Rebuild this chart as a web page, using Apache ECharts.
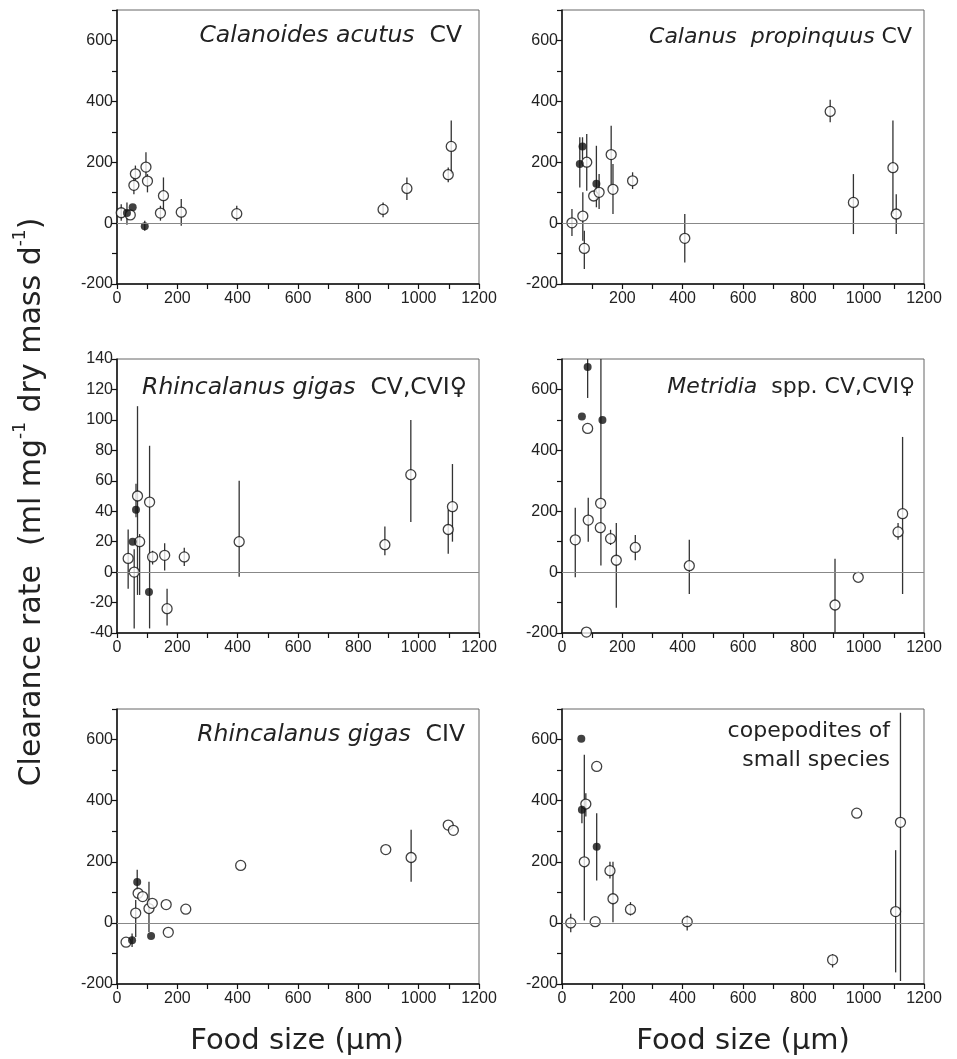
<!DOCTYPE html>
<html>
<head>
<meta charset="utf-8">
<script src="https://cdn.jsdelivr.net/npm/echarts@6/dist/echarts.min.js"></script>
<style>
  html, body { margin: 0; padding: 0; background: #fff; }
  #main { width: 957px; height: 1059px; }
</style>
</head>
<body>
<div id="main"></div>
<script>
// Calanoides acutus CV
var p1Open = [[14, 34], [44, 27], [56, 124], [61, 162], [96, 184], [101, 138], [144, 33], [154, 90], [213, 36], [397, 31], [882, 45], [961, 114], [1098, 159], [1108, 252]];
var p1Filled = [[33, 33], [52, 52], [92, -10]];
var p1Err = [[14, 8, 62], [33, -5, 68], [56, 95, 150], [61, 139, 189], [96, 150, 233], [101, 101, 161], [92, -25, 8], [144, 8, 57], [154, 41, 150], [213, -9, 79], [397, 8, 57], [882, 19, 68], [961, 76, 150], [1098, 134, 183], [1108, 161, 337]];

// Calanus propinquus CV
var p2Open = [[33, 1], [69, 23], [74, -83], [82, 200], [105, 89], [123, 101], [163, 225], [169, 111], [234, 139], [407, -50], [889, 367], [966, 68], [1097, 182], [1108, 30]];
var p2Filled = [[59, 194], [68, 252], [114, 129]];
var p2Err = [[33, -42, 46], [59, 117, 282], [68, 211, 282], [69, -58, 101], [74, -151, -25], [82, 106, 293], [114, 52, 254], [123, 46, 161], [163, 123, 320], [169, 30, 194], [234, 112, 167], [407, -129, 30], [889, 331, 405], [966, -36, 161], [1097, 30, 337], [1108, -36, 95]];

// Rhincalanus gigas CV,CVI
var p3Open = [[37, 9], [57, 0], [68, 50], [75, 20], [108, 46], [118, 10], [158, 11], [166, -24], [223, 10], [405, 20], [888, 18], [974, 64], [1098, 28], [1112, 43]];
var p3Filled = [[52, 20], [63, 41], [106, -13]];
var p3Err = [[37, -11, 28], [57, -37, 15], [63, 36, 58], [68, -15, 109], [75, -15, 25], [108, -37, 83], [118, 5, 14], [158, 1, 19], [166, -35, -11], [223, 4, 16], [405, -3, 60], [888, 11, 30], [974, 33, 100], [1098, 12, 41], [1112, 20, 71]];

// Metridia spp. CV,CVI
var p4Open = [[44, 106], [81, -197], [85, 472], [87, 171], [127, 146], [128, 226], [161, 110], [180, 39], [243, 81], [422, 21], [905, -108], [982, -17], [1114, 132], [1129, 192]];
var p4Filled = [[66, 511], [85, 674], [134, 500]];
var p4Err = [[44, -17, 211], [85, 572, 700], [87, 100, 244], [129, 22, 700], [161, 89, 139], [180, -117, 161], [243, 39, 122], [422, -72, 106], [905, -200, 44], [1114, 106, 161], [1129, -72, 444]];

// Rhincalanus gigas CIV
var p5Open = [[30, -63], [62, 32], [70, 97], [85, 86], [106, 47], [117, 64], [163, 60], [170, -31], [228, 45], [410, 188], [891, 240], [975, 214], [1098, 320], [1115, 303]];
var p5Filled = [[50, -57], [67, 134], [113, -43]];
var p5Err = [[50, -79, -35], [62, -46, 75], [67, 108, 174], [106, -30, 135], [975, 135, 305]];

// copepodites of small species
var p6Open = [[29, 0], [74, 200], [79, 389], [110, 4], [115, 512], [159, 171], [169, 79], [227, 44], [415, 4], [897, -121], [977, 359], [1106, 37], [1122, 329]];
var p6Filled = [[64, 603], [66, 370], [115, 249]];
var p6Err = [[29, -31, 30], [66, 326, 386], [74, 8, 550], [79, 348, 424], [115, 139, 359], [159, 145, 200], [169, 2, 200], [227, 24, 68], [415, -25, 24], [897, -146, -102], [1106, -162, 238], [1122, -190, 688]];

var xTicks = { min: 0, max: 1200, step: 100, labelStep: 200 };
var yTicksBig = { min: -200, max: 700, step: 100, labelStep: 200 };
var yTicksSmall = { min: -40, max: 140, step: 20, labelStep: 20 };

var panels = [
    { open: p1Open, filled: p1Filled, err: p1Err, y: yTicksBig, left: 117, top: 10, height: 274 },
    { open: p2Open, filled: p2Filled, err: p2Err, y: yTicksBig, left: 562, top: 10, height: 274, hideZero: true },
    { open: p3Open, filled: p3Filled, err: p3Err, y: yTicksSmall, left: 117, top: 359, height: 274 },
    { open: p4Open, filled: p4Filled, err: p4Err, y: yTicksBig, left: 562, top: 359, height: 274 },
    { open: p5Open, filled: p5Filled, err: p5Err, y: yTicksBig, left: 117, top: 709, height: 275 },
    { open: p6Open, filled: p6Filled, err: p6Err, y: yTicksBig, left: 562, top: 709, height: 275 }
];

var tickFont = { fontFamily: 'Liberation Sans', fontSize: 16, color: '#222' };
var sp = { fontFamily: 'DejaVu Sans', fontSize: 22, fontStyle: 'italic', fontWeight: 'normal', color: '#222', lineHeight: 26 };
var rm = { fontFamily: 'DejaVu Sans', fontSize: 22, fontWeight: 'normal', color: '#222', lineHeight: 26 };
var spL = Object.assign({}, sp, { fontSize: 23.5 });
var rmL = Object.assign({}, rm, { fontSize: 23.5 });

var grids = [], xAxes = [], yAxes = [], series = [];

panels.forEach(function (p, i) {
    grids.push({
        left: p.left, top: p.top, width: 362, height: p.height,
        show: true, borderColor: '#666', borderWidth: 1
    });
    xAxes.push({
        type: 'value', gridIndex: i,
        min: xTicks.min, max: xTicks.max, interval: xTicks.step,
        axisLine: { onZero: false, lineStyle: { color: '#111', width: 1.5 } },
        axisTick: { inside: false, length: 5, lineStyle: { color: '#111', width: 1.2 } },
        splitLine: { show: false },
        axisLabel: Object.assign({
            margin: 7,
            showMinLabel: !p.hideZero,
            formatter: function (v) { return v % xTicks.labelStep === 0 ? String(v) : ''; }
        }, tickFont)
    });
    yAxes.push({
        type: 'value', gridIndex: i,
        min: p.y.min, max: p.y.max, interval: p.y.step,
        axisLine: { onZero: false, lineStyle: { color: '#111', width: 1.5 } },
        axisTick: { inside: false, length: 5, lineStyle: { color: '#111', width: 1.2 } },
        splitLine: { show: false },
        axisLabel: Object.assign({
            margin: 4,
            formatter: function (v) { return v % p.y.labelStep === 0 ? String(v) : ''; }
        }, tickFont)
    });
    // error bars
    series.push({
        type: 'custom', xAxisIndex: i, yAxisIndex: i,
        data: p.err,
        encode: { x: 0, y: [1, 2] },
        silent: true,
        renderItem: function (params, api) {
            var a = api.coord([api.value(0), api.value(1)]);
            var b = api.coord([api.value(0), api.value(2)]);
            return {
                type: 'line',
                shape: { x1: a[0], y1: a[1], x2: b[0], y2: b[1] },
                style: { stroke: '#333', lineWidth: 1.3 }
            };
        },
        z: 1
    });
    // open circles + zero line
    series.push({
        type: 'scatter', xAxisIndex: i, yAxisIndex: i,
        data: p.open,
        symbol: 'circle', symbolSize: 10,
        itemStyle: { color: '#fff', borderColor: '#111', borderWidth: 1.3 },
        markLine: {
            silent: true, symbol: 'none', label: { show: false },
            lineStyle: { color: '#888', width: 1.2, type: 'solid' },
            data: [{ yAxis: 0 }]
        },
        z: 3
    });
    series.push({
        type: 'scatter', xAxisIndex: i, yAxisIndex: i,
        data: p.filled,
        symbol: 'circle', symbolSize: 8,
        itemStyle: { color: '#111' },
        z: 4
    });
});

var myChart = echarts.init(document.getElementById('main'), null, { renderer: 'canvas' });

var titleStyle = { fontWeight: 'normal', rich: { i: sp, n: rm } };
var titleStyleL = { fontWeight: 'normal', rich: { i: spL, n: rmL } };
var option = {
    animation: false,
    backgroundColor: '#fff',
    title: [
        { text: '{i|Calanoides acutus}{n|  CV}', right: 490, top: 18, textStyle: titleStyleL },
        { text: '{i|Calanus  propinquus}{n| CV}', right: 40, top: 19, textStyle: titleStyle },
        { text: '{i|Rhincalanus gigas}{n|  CV,CVI\u2640}', right: 485, top: 370, textStyle: titleStyleL },
        { text: '{i|Metridia}{n|  spp. CV,CVI\u2640}', right: 37, top: 369, textStyle: titleStyle },
        { text: '{i|Rhincalanus gigas}{n|  CIV}', right: 487, top: 717, textStyle: titleStyleL }
    ],
    graphic: [
        {
            type: 'text', x: 890, y: 746,
            style: {
                text: 'copepodites of\nsmall species',
                align: 'right', verticalAlign: 'middle', lineHeight: 29,
                fontFamily: 'DejaVu Sans', fontSize: 22, fill: '#222'
            }
        },
        {
            type: 'text', x: 30, y: 502, rotation: Math.PI / 2,
            style: {
                text: '{n|Clearance rate  (ml mg}{s|-1}{n| dry mass d}{s|-1}{n|)}',
                align: 'center', verticalAlign: 'middle',
                rich: {
                    n: { fontFamily: 'DejaVu Sans', fontSize: 30, fill: '#222', verticalAlign: 'bottom', lineHeight: 35 },
                    s: { fontFamily: 'DejaVu Sans', fontSize: 17, fill: '#222', verticalAlign: 'top', lineHeight: 35 }
                }
            }
        },
        {
            type: 'text', x: 297, y: 1041,
            style: { text: 'Food size (\u03bcm)', align: 'center', verticalAlign: 'middle', fontFamily: 'DejaVu Sans', fontSize: 29, fill: '#222' }
        },
        {
            type: 'text', x: 743, y: 1041,
            style: { text: 'Food size (\u03bcm)', align: 'center', verticalAlign: 'middle', fontFamily: 'DejaVu Sans', fontSize: 29, fill: '#222' }
        }
    ],
    grid: grids,
    xAxis: xAxes,
    yAxis: yAxes,
    series: series
};

myChart.setOption(option, true);
</script>
</body>
</html>
